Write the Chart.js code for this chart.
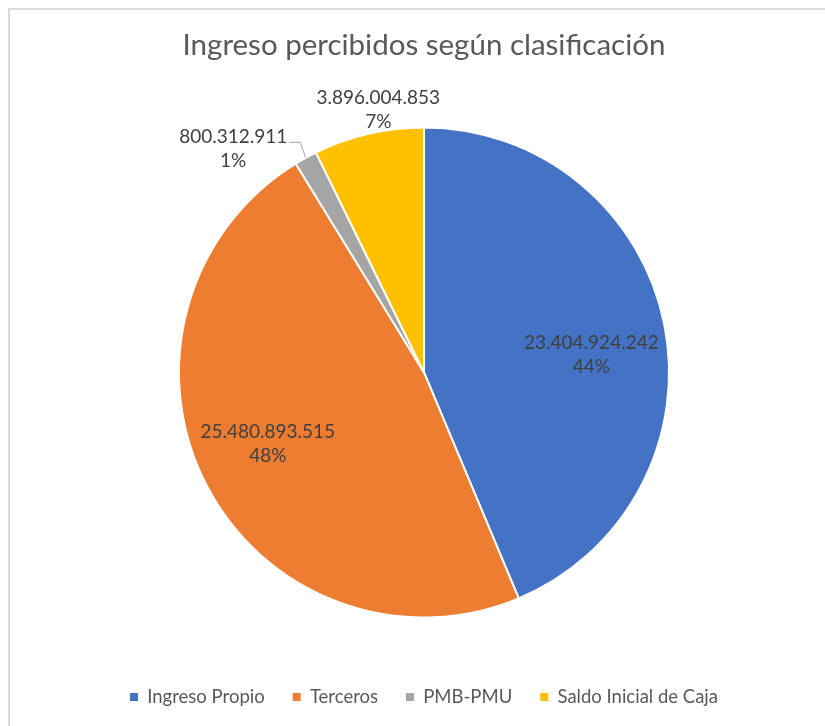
<!DOCTYPE html>
<html>
<head>
<meta charset="utf-8">
<script src="https://cdn.jsdelivr.net/npm/chart.js@4.4.1/dist/chart.umd.min.js"></script>
<style>
    html, body { margin: 0; padding: 0; background: #fff; overflow: hidden; }
    #frame { position: absolute; left: 8px; top: 8px; width: 900px; height: 800px;
             border-left: 2px solid #d9d9d9; border-top: 2px solid #d9d9d9; }
    #wrap { position: absolute; left: 0; top: 0; width: 825px; height: 726px; }
</style>
</head>
<body>
<div id="frame"></div>
<div id="wrap"><canvas id="pie-chart" width="825" height="726"></canvas></div>
<script>
const chartTitle = 'Ingreso percibidos según clasificación';
const categories = ['Ingreso Propio', 'Terceros', 'PMB-PMU', 'Saldo Inicial de Caja'];
const amounts = [23404924242, 25480893515, 800312911, 3896004853];
const sliceColors = ['#4472C4', '#ED7D31', '#A5A5A5', '#FFC000'];

// thousands with dots, like the original sheet
function fmt(n) {
    return String(n).replace(/\B(?=(\d{3})+(?!\d))/g, '.');
}

// where each label sits: angle shift (deg) from slice middle and distance as share of radius
const labelSpots = [
    { shift: 5.3, dist: 0.687 },
    { shift: 2.6, dist: 0.701 },
    { shift: -11.6, dist: 1.2, leader: true },
    { shift: 3.2, dist: 1.087 }
];

const dataLabels = {
    id: 'dataLabels',
    afterDatasetsDraw(chart) {
        const ctx = chart.ctx;
        const meta = chart.getDatasetMeta(0);
        const values = chart.data.datasets[0].data;
        const total = values.reduce((a, b) => a + b, 0);
        ctx.save();
        ctx.font = '19px Lato';
        ctx.fillStyle = '#404040';
        ctx.textAlign = 'center';
        ctx.textBaseline = 'middle';
        meta.data.forEach((arc, i) => {
            const p = arc.getProps(['x', 'y', 'startAngle', 'endAngle', 'outerRadius'], true);
            const mid = (p.startAngle + p.endAngle) / 2;
            const spot = labelSpots[i];
            const a = mid + spot.shift * Math.PI / 180;
            const px = p.x + Math.cos(a) * p.outerRadius * spot.dist;
            const py = p.y + Math.sin(a) * p.outerRadius * spot.dist;
            const line1 = fmt(values[i]);
            const line2 = Math.round(values[i] / total * 100) + '%';
            ctx.fillText(line1, px, py - 12);
            ctx.fillText(line2, px, py + 12);
            if (spot.leader) {
                const w = ctx.measureText(line1).width;
                const right = px + w / 2;
                ctx.strokeStyle = '#a6a6a6';
                ctx.lineWidth = 1;
                ctx.beginPath();
                ctx.moveTo(right + 2, py - 6.5);
                ctx.lineTo(right + 13, py - 6.5);
                ctx.lineTo(p.x + Math.cos(mid) * p.outerRadius, p.y + Math.sin(mid) * p.outerRadius);
                ctx.stroke();
            }
        });
        ctx.restore();
    }
};

const ctx = document.getElementById('pie-chart').getContext('2d');
const pieChart = new Chart(ctx, {
    type: 'pie',
    data: {
        labels: categories,
        datasets: [{
            data: amounts,
            backgroundColor: sliceColors,
            borderColor: '#ffffff',
            borderWidth: 2,
            radius: 245
        }]
    },
    options: {
        responsive: false,
        animation: false,
        layout: {
            padding: { left: 23, right: 0, top: 0, bottom: 9.75 }
        },
        plugins: {
            tooltip: { enabled: false },
            title: {
                display: true,
                text: chartTitle,
                color: '#595959',
                font: { family: 'Lato', size: 29.5, weight: 'normal' },
                padding: { top: 27.3, bottom: 22.5 }
            },
            legend: {
                position: 'bottom',
                labels: {
                    boxWidth: 8,
                    boxHeight: 8,
                    padding: 28,
                    color: '#595959',
                    font: { family: 'Lato', size: 18.5 },
                    generateLabels(chart) {
                        const ds = chart.data.datasets[0];
                        return chart.data.labels.map((t, i) => ({
                            text: t,
                            fillStyle: ds.backgroundColor[i],
                            strokeStyle: ds.backgroundColor[i],
                            lineWidth: 0,
                            hidden: false,
                            index: i,
                            fontColor: '#595959'
                        }));
                    }
                }
            }
        }
    },
    plugins: [dataLabels]
});
</script>
</body>
</html>
